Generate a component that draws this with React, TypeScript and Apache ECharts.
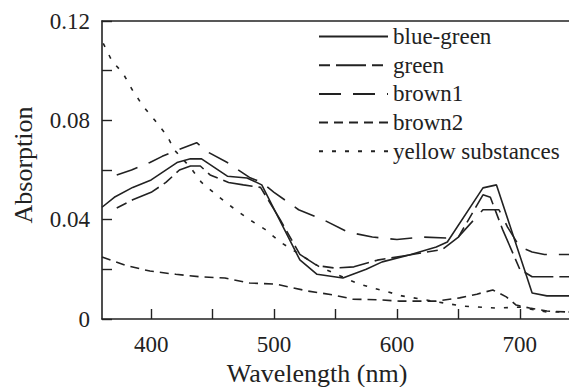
import React, { useEffect, useRef } from "react";
import * as echarts from "echarts";

// Wavelength (nm) / absorption pairs
const blueGreen: [number, number][] = [
  [360, 0.045], [370, 0.049], [385, 0.053], [400, 0.056], [421, 0.063], [432, 0.0645],
  [441, 0.0645], [462, 0.0575], [478, 0.0568], [490, 0.054], [521, 0.0238], [535, 0.018],
  [556, 0.0165], [575, 0.020], [588, 0.023], [610, 0.0258], [632, 0.029], [641, 0.031],
  [670, 0.0528], [681, 0.054], [710, 0.0105], [722, 0.0093], [740, 0.0093],
];
const green: [number, number][] = [
  [372, 0.0447], [385, 0.048], [400, 0.051], [412, 0.055], [423, 0.060], [432, 0.0616],
  [440, 0.0616], [448, 0.058], [463, 0.055], [475, 0.054], [489, 0.053], [505, 0.040],
  [521, 0.026], [535, 0.0215], [550, 0.0205], [565, 0.021], [584, 0.0237], [605, 0.0254],
  [637, 0.028], [650, 0.033], [670, 0.050], [676, 0.049], [686, 0.036], [700, 0.020],
  [710, 0.017], [740, 0.017],
];
const brown1: [number, number][] = [
  [372, 0.058], [384, 0.060], [399, 0.063], [409, 0.0655], [421, 0.068], [437, 0.071],
  [447, 0.067], [462, 0.063], [480, 0.057], [490, 0.055], [500, 0.051], [520, 0.044],
  [540, 0.040], [560, 0.035], [580, 0.033], [600, 0.032], [620, 0.033], [640, 0.0326],
  [650, 0.033], [670, 0.044], [683, 0.044], [690, 0.037], [700, 0.029], [710, 0.027],
  [720, 0.026], [740, 0.026],
];
const brown2: [number, number][] = [
  [360, 0.025], [380, 0.0215], [399, 0.0193], [420, 0.018], [440, 0.017], [460, 0.0165],
  [480, 0.0145], [502, 0.014], [527, 0.0113], [548, 0.0097], [564, 0.008], [586, 0.0077],
  [602, 0.0072], [632, 0.0072], [651, 0.0085], [665, 0.010], [678, 0.0117], [689, 0.0089],
  [697, 0.0056], [708, 0.0044], [722, 0.0032], [740, 0.0028],
];
const yellowSubstances: [number, number][] = [
  [361, 0.111], [368, 0.104], [377, 0.099], [385, 0.092], [393, 0.086], [403, 0.080],
  [413, 0.0737], [419, 0.068], [432, 0.061], [441, 0.055], [453, 0.050], [466, 0.045],
  [480, 0.040], [493, 0.036], [505, 0.031], [537, 0.021], [567, 0.0145], [580, 0.0125],
  [592, 0.011], [604, 0.0093], [653, 0.0052], [681, 0.0044], [700, 0.0048], [722, 0.0028],
  [740, 0.0028],
];

const seriesNames = ["blue-green", "green", "brown1", "brown2", "yellow substances"];
const xTickValues = [400, 450, 500, 550, 600, 650, 700];
const xLabelValues = [400, 500, 600, 700];
const yLabelValues = [0, 0.04, 0.08, 0.12];

const INK = "#222";
const FONT = "Times New Roman, Liberation Serif, DejaVu Serif, Noto Serif, serif";

export default function App() {
  const ref = useRef<HTMLDivElement>(null);

  useEffect(() => {
    if (!ref.current) return;
    const chart = echarts.init(ref.current, undefined, { renderer: "svg" });
    const dashes: (string | number[])[] = ["solid", [11, 6, 30, 6], [22, 12], [9, 6], [4, 9]];
    const datasets = [blueGreen, green, brown1, brown2, yellowSubstances];

    chart.setOption({
      animation: false,
      textStyle: { fontFamily: FONT, color: INK },
      grid: { left: 102, right: 0, top: 21, bottom: 68 },
      legend: {
        orient: "vertical",
        left: 318,
        top: 25,
        padding: 0,
        itemWidth: 69,
        itemHeight: 12,
        itemGap: 5.7,
        selectedMode: false,
        data: seriesNames,
        itemStyle: { color: "rgba(0,0,0,0)", borderWidth: 0, opacity: 0 },
        textStyle: { fontFamily: FONT, fontSize: 23, color: INK, lineHeight: 23 },
      },
      xAxis: [
        {
          type: "value",
          min: 360,
          max: 740,
          axisLine: { lineStyle: { color: INK, width: 1.6 } },
          axisTick: {
            inside: true,
            length: 10,
            customValues: xTickValues,
            lineStyle: { color: INK, width: 1.4 },
          },
          axisLabel: {
            customValues: xLabelValues,
            margin: 14,
            fontSize: 23,
            color: INK,
            fontFamily: FONT,
          },
          splitLine: { show: false },
        },
        {
          type: "value",
          position: "top",
          min: 360,
          max: 740,
          axisLine: { show: true, lineStyle: { color: INK, width: 1.6 } },
          axisTick: { show: false },
          axisLabel: { show: false },
          splitLine: { show: false },
        },
      ],
      yAxis: {
        type: "value",
        min: 0,
        max: 0.12,
        interval: 0.02,
        axisLine: { show: true, lineStyle: { color: INK, width: 1.6 } },
        axisTick: { inside: true, length: 10, lineStyle: { color: INK, width: 1.4 } },
        axisLabel: {
          margin: 12,
          fontSize: 23,
          color: INK,
          fontFamily: FONT,
          formatter: (v: number) => {
            const hit = yLabelValues.find((t) => Math.abs(t - v) < 1e-9);
            if (hit === undefined) return "";
            return hit === 0 ? "0" : hit.toFixed(2);
          },
        },
        splitLine: { show: false },
      },
      graphic: [
        {
          type: "text",
          x: 317,
          y: 373,
          style: {
            text: "Wavelength (nm)",
            fontFamily: FONT,
            fontSize: 26,
            fill: INK,
            align: "center",
            verticalAlign: "middle",
          },
        },
        {
          type: "text",
          x: 23,
          y: 165,
          rotation: Math.PI / 2,
          style: {
            text: "Absorption",
            fontFamily: FONT,
            fontSize: 26,
            fill: INK,
            align: "center",
            verticalAlign: "middle",
          },
        },
      ],
      series: seriesNames.map((name, i) => ({
        name,
        type: "line",
        xAxisIndex: 0,
        data: datasets[i],
        symbol: "none",
        smooth: false,
        lineStyle: { color: INK, width: 1.6, type: dashes[i] },
        itemStyle: { color: INK },
      })),
    });

    return () => chart.dispose();
  }, []);

  return (
    <div
      ref={ref}
      style={{ position: "absolute", left: 0, top: 0, width: 569, height: 387 }}
    />
  );
}
